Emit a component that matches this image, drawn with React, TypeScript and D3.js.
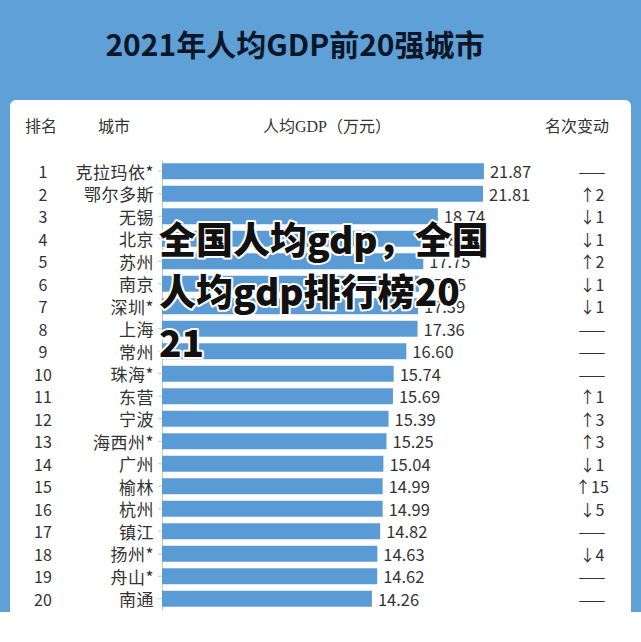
import React, { useEffect, useRef } from "react";
import * as d3 from "d3";

const ranks = ["1","2","3","4","5","6","7","8","9","10","11","12","13","14","15","16","17","18","19","20"];
const cities = ["克拉玛依*","鄂尔多斯","无锡","北京","苏州","南京","深圳*","上海","常州","珠海*","东营","宁波","海西州*","广州","榆林","杭州","镇江","扬州*","舟山*","南通"];
const gdpValues = [21.87,21.81,18.74,18.40,17.75,17.45,17.39,17.36,16.60,15.74,15.69,15.39,15.25,15.04,14.99,14.99,14.82,14.63,14.62,14.26];
const rankChanges = ["——","↑2","↓1","↓1","↑2","↓1","↓1","——","——","——","↑1","↑3","↑3","↓1","↑15","↓5","——","↓4","——","——"];
const headers = ["排名","城市","人均GDP（万元）","名次变动"];
const titleText = "2021年人均GDP前20强城市";
const watermarkLines = ["全国人均gdp，全国","人均gdp排行榜20","21"];

const W = 641, H = 642;
const SANS = "'Noto Sans CJK SC', 'Noto Sans', sans-serif";
const SERIF = "'Liberation Serif', 'DejaVu Serif', 'Noto Sans CJK SC', serif";
const BLUE = "#5b9bd5";
const BG = "#5fa0d7";

export default function App() {
  const axisRef = useRef<SVGGElement>(null);
  const y = d3.scaleBand<string>().domain(cities).range([160, 610]).paddingInner(0.29).paddingOuter(0.145);
  const x = d3.scaleLinear().domain([0, 22]).range([162, 162 + 22 * 14.72]);

  useEffect(() => {
    if (!axisRef.current) return;
    const g = d3.select(axisRef.current);
    g.selectAll("*").remove();
    g.call(d3.axisLeft(y).tickSize(4).tickSizeOuter(0).tickFormat(() => ""));
    g.selectAll("path, line").attr("stroke", "#c8c8c8");
  }, []);

  return (
    <svg width={W} height={H} style={{ position: "absolute", left: 0, top: 0 }} xmlns="http://www.w3.org/2000/svg">
      <rect x={0} y={0} width={W} height={H} fill="#ffffff" />
      <rect x={0} y={0} width={W} height={612} fill={BG} />
      <rect x={10} y={100} width={621} height={560} rx={6} fill="#ffffff" />
      <text x={295} y={56} textAnchor="middle" fontFamily={SANS} fontWeight={700} fontSize={30} fill="#0b1628">{titleText}</text>

      <g fontFamily={SERIF} fontSize={16} fill="#333">
        <text x={25} y={132}>{headers[0]}</text>
        <text x={98} y={132}>{headers[1]}</text>
        <text x={263} y={132}>{headers[2]}</text>
        <text x={545} y={132}>{headers[3]}</text>
      </g>

      <g ref={axisRef} transform={`translate(${x(0)},0)`} />

      {cities.map((c, i) => {
        const yc = (y(c) as number) + y.bandwidth() / 2;
        return (
          <g key={c}>
            <rect x={x(0)} y={y(c)} width={x(gdpValues[i]) - x(0)} height={y.bandwidth()} fill={BLUE} />
            <text x={43} y={yc} dominantBaseline="central" textAnchor="middle" fontFamily={SANS} fontSize={16} fill="#333">{ranks[i]}</text>
            <text x={154} y={yc} dominantBaseline="central" textAnchor="end" fontFamily={SANS} fontSize={17} letterSpacing={0.5} fill="#333">{c}</text>
            <text x={x(gdpValues[i]) + 6} y={yc} dominantBaseline="central" fontFamily={SANS} fontSize={16.5} fill="#333">{gdpValues[i].toFixed(2)}</text>
            <text x={592} y={yc} dominantBaseline="central" textAnchor="middle" fontFamily={SANS} fontSize={16} fill="#333">{rankChanges[i]}</text>
          </g>
        );
      })}

      <g fontFamily={SANS} fontWeight={900} fontSize={37} fill="#111" stroke="#ffffff" strokeWidth={4} strokeLinejoin="round" style={{ paintOrder: "stroke" }}>
        {watermarkLines.map((t, i) => (
          <text key={i} x={159} y={254 + i * 51.5}>{t}</text>
        ))}
      </g>
    </svg>
  );
}
